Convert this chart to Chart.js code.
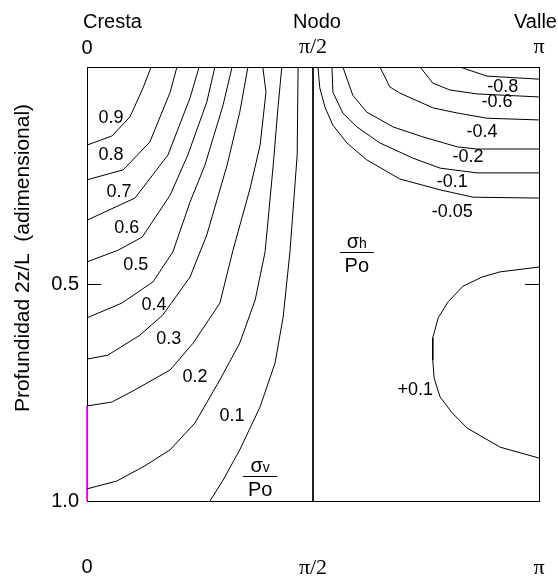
<!DOCTYPE html>
<html>
<head>
<meta charset="utf-8">
<script src="https://cdn.jsdelivr.net/npm/chart.js@4.4.0/dist/chart.umd.min.js"></script>
<style>
body { margin: 0; background: #fff; }
#wrap { width: 558px; height: 577px; }
</style>
</head>
<body>
<div id="wrap"><canvas id="myChart" width="558" height="577"></canvas></div>
<script>
// x = fase / pi (0 cresta, 0.5 nodo, 1 valle), y = profundidad 2z/L
var xTicks = [0, 0.5, 1];
var xTickLabels = ['0', 'π/2', 'π'];
var yTicks = [0.5, 1.0];
var headers = ['Cresta', 'Nodo', 'Valle'];
var yTitle = 'Profundidad 2z/L  (adimensional)';

// sigma_v / Po
var sv09 = [[.142,0],[.124,.048],[.095,.115],[.055,.159],[0,.180]];
var sv08 = [[.199,0],[.184,.058],[.139,.173],[.080,.237],[0,.260]];
var sv07 = [[.248,0],[.228,.071],[.179,.203],[.106,.302],[0,.353]];
var sv06 = [[.283,0],[.265,.081],[.223,.203],[.184,.295],[.122,.392],[.069,.422],[0,.449]];
var sv05 = [[.321,0],[.301,.088],[.261,.226],[.228,.311],[.190,.426],[.146,.495],[.077,.544],[0,.578]];
var sv04 = [[.356,0],[.338,.104],[.310,.226],[.265,.387],[.228,.484],[.168,.571],[.117,.618],[.046,.664],[0,.673]];
var sv03 = [[.389,0],[.396,.058],[.383,.180],[.361,.279],[.323,.422],[.294,.544],[.235,.636],[.184,.698],[.106,.744],[.055,.772],[0,.781]];
var sv02 = [[.431,0],[.423,.088],[.412,.226],[.394,.426],[.372,.537],[.338,.636],[.294,.721],[.239,.820],[.184,.882],[.128,.919],[.066,.954],[0,.972]];
var sv01 = [[.467,0],[.465,.203],[.449,.426],[.434,.576],[.416,.682],[.383,.783],[.338,.882],[.301,.952],[.272,1]];
var nodo = [[.5,0],[.5,1]];
var crestaEdge = [[0,.781],[0,1]];

// sigma_h / Po
var shm005 = [[.511,0],[.515,.048],[.527,.094],[.544,.134],[.575,.175],[.619,.214],[.692,.258],[.781,.283],[.854,.300],[1,.302]];
var shm01 = [[.542,0],[.544,.058],[.566,.106],[.597,.138],[.648,.175],[.721,.210],[.781,.233],[.863,.244],[1,.244]];
var shm02 = [[.566,0],[.588,.065],[.619,.104],[.677,.138],[.743,.161],[.819,.184],[.863,.189],[1,.189]];
var shm04 = [[.648,0],[.670,.046],[.692,.060],[.765,.094],[.819,.106],[.885,.118],[1,.122]];
var shm06 = [[.737,0],[.765,.037],[.803,.053],[.863,.062],[1,.069]];
var shm08 = [[.825,0],[.885,.021],[1,.028]];
var shp01 = [[1,.461],[.914,.472],[.874,.484],[.832,.505],[.799,.541],[.777,.578],[.765,.624],[.765,.675],[.768,.717],[.781,.760],[.808,.797],[.841,.832],[.914,.876],[1,.901]];

var levelText = ['0.9','0.8','0.7','0.6','0.5','0.4','0.3','0.2','0.1','-0.8','-0.6','-0.4','-0.2','-0.1','-0.05','+0.1'];
var levelAt = [[.053,.118],[.053,.203],[.071,.288],[.088,.371],[.108,.456],[.148,.548],[.181,.627],[.239,.714],[.321,.804],
               [.920,.046],[.907,.081],[.874,.150],[.843,.207],[.808,.265],[.808,.334],[.726,.744]];

function pts(a) { return a.map(function (p) { return {x: p[0], y: p[1]}; }); }
function line(a, color) {
    return { data: pts(a), showLine: true, borderColor: color || '#000', borderWidth: 1,
             pointRadius: 0, fill: false, tension: 0, clip: color ? false : undefined };
}

var sans = '"Liberation Sans", Arial, sans-serif';
var serif = '"Liberation Serif", "Times New Roman", serif';

var textPlugin = {
    id: 'texts',
    afterDatasetsDraw: function (chart) {
        var c = chart.ctx, sx = chart.scales.x, sy = chart.scales.y;
        c.save();
        c.fillStyle = '#000';
        c.strokeStyle = '#000';
        c.lineWidth = 1;
        // marcas interiores en 0.5
        var ty = Math.round(sy.getPixelForValue(0.5)) + 0.5;
        c.beginPath();
        c.moveTo(sx.left, ty); c.lineTo(sx.left + 14, ty);
        c.moveTo(sx.right - 14, ty); c.lineTo(sx.right, ty);
        c.stroke();
        // etiquetas de las isolineas
        c.font = '18px ' + sans;
        c.textAlign = 'center';
        c.textBaseline = 'middle';
        levelText.forEach(function (t, i) {
            c.fillText(t, sx.getPixelForValue(levelAt[i][0]), sy.getPixelForValue(levelAt[i][1]));
        });
        // fracciones sigma / Po
        function frac(sub, fx, fy) {
            var x = sx.getPixelForValue(fx), y = sy.getPixelForValue(fy);
            c.textAlign = 'left';
            c.textBaseline = 'alphabetic';
            c.font = '20px ' + sans;
            var w1 = c.measureText('σ').width;
            c.font = '14px ' + sans;
            var w2 = c.measureText(sub).width;
            var w = w1 + w2;
            c.font = '20px ' + sans;
            c.fillText('σ', x - w / 2, y - 4);
            c.font = '14px ' + sans;
            c.fillText(sub, x - w / 2 + w1, y - 4);
            c.beginPath();
            c.moveTo(x - 17, Math.round(y) + 0.5); c.lineTo(x + 17, Math.round(y) + 0.5);
            c.stroke();
            c.font = '20px ' + sans;
            c.textAlign = 'center';
            c.fillText('Po', x, y + 20);
        }
        frac('v', .383, .942);
        frac('h', .597, .426);
        // encabezados
        c.font = '20px ' + sans;
        c.textBaseline = 'middle';
        c.textAlign = 'left';
        c.fillText(headers[0], sx.getPixelForValue(0) - 4, 22);
        c.textAlign = 'center';
        c.fillText(headers[1], sx.getPixelForValue(0.5) + 4, 22);
        c.textAlign = 'left';
        c.fillText(headers[2], sx.getPixelForValue(1) - 25, 22);
        // titulo del eje vertical
        c.translate(23, 258);
        c.rotate(-Math.PI / 2);
        c.font = '21px ' + sans;
        c.textAlign = 'center';
        c.fillText(yTitle, 0, 0);
        c.restore();
    }
};

var xTickFont = function (ctx) {
    var v = ctx.tick ? ctx.tick.value : 0;
    return v === 0 ? { family: sans, size: 20 } : { family: serif, size: 22 };
};
var noGrid = { drawOnChartArea: false, drawTicks: false };
var frame = { display: true, color: '#000', width: 1 };
function fitX(h) {
    return function (s) { s.height = h; s.paddingLeft = 0; s.paddingRight = 0; };
}

var config = {
    type: 'scatter',
    data: {
        datasets: [
            line(sv09), line(sv08), line(sv07), line(sv06), line(sv05), line(sv04), line(sv03), line(sv02), line(sv01),
            line(nodo), line(crestaEdge, '#ff00ff'),
            line(shm005), line(shm01), line(shm02), line(shm04), line(shm06), line(shm08), line(shp01)
        ]
    },
    options: {
        responsive: false,
        animation: false,
        layout: { padding: 0 },
        plugins: { legend: { display: false }, tooltip: { enabled: false } },
        scales: {
            x: {
                type: 'linear', position: 'bottom', min: 0, max: 1,
                grid: noGrid, border: frame,
                afterBuildTicks: function (s) { s.ticks = xTicks.map(function (v) { return {value: v}; }); },
                afterFit: fitX(76),
                ticks: { color: '#000', padding: 54, maxRotation: 0, autoSkip: false, font: xTickFont,
                         callback: function (v) { return xTickLabels[xTicks.indexOf(v)]; } }
            },
            x2: {
                type: 'linear', position: 'top', min: 0, max: 1,
                grid: noGrid, border: frame,
                afterBuildTicks: function (s) { s.ticks = xTicks.map(function (v) { return {value: v}; }); },
                afterFit: fitX(67),
                ticks: { color: '#000', padding: 7, maxRotation: 0, autoSkip: false, font: xTickFont,
                         callback: function (v) { return xTickLabels[xTicks.indexOf(v)]; } }
            },
            y: {
                type: 'linear', position: 'left', min: 0, max: 1, reverse: true,
                grid: noGrid, border: frame,
                afterBuildTicks: function (s) { s.ticks = yTicks.map(function (v) { return {value: v}; }); },
                afterFit: function (s) { s.width = 87; },
                ticks: { color: '#000', padding: 8, font: { family: sans, size: 20 },
                         callback: function (v) { return v.toFixed(1); } }
            },
            y2: {
                type: 'linear', position: 'right', min: 0, max: 1, reverse: true,
                grid: noGrid, border: frame,
                afterFit: function (s) { s.width = 19; },
                ticks: { display: false }
            }
        }
    },
    plugins: [textPlugin]
};

var ctx = document.getElementById('myChart').getContext('2d');
var myChart = new Chart(ctx, config);
</script>
</body>
</html>
